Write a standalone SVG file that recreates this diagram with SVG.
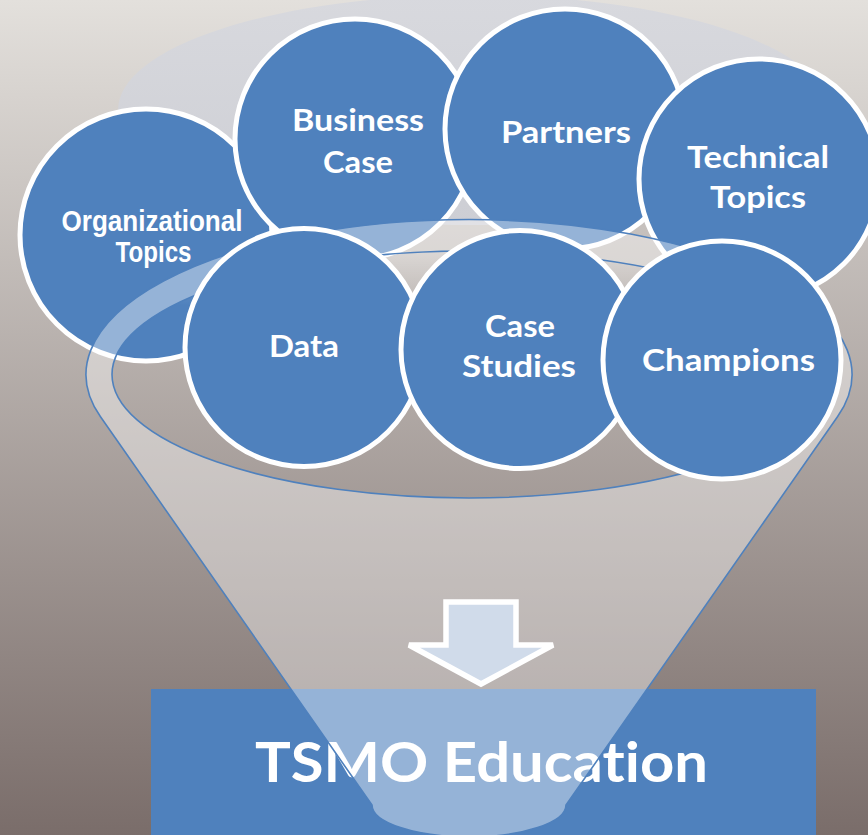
<svg xmlns="http://www.w3.org/2000/svg" width="868" height="835" viewBox="0 0 868 835">
  <defs>
    <linearGradient id="bgGrad" x1="0" y1="0" x2="0" y2="835" gradientUnits="userSpaceOnUse">
      <stop offset="0" stop-color="#e3e0dc"/>
      <stop offset="1" stop-color="#7a6d6a"/>
    </linearGradient>
    <linearGradient id="rimGrad" x1="0" y1="-5" x2="0" y2="225" gradientUnits="userSpaceOnUse">
      <stop offset="0" stop-color="#d8d9de"/>
      <stop offset="1" stop-color="#cdced4"/>
    </linearGradient>
    <linearGradient id="holeGrad" x1="0" y1="251" x2="0" y2="498" gradientUnits="userSpaceOnUse">
      <stop offset="0" stop-color="#ffffff" stop-opacity="0.4"/>
      <stop offset="0.22" stop-color="#ffffff" stop-opacity="0"/>
      <stop offset="1" stop-color="#ffffff" stop-opacity="0"/>
    </linearGradient>
    <style>
      .bubble { fill: #4f81bd; stroke: #ffffff; stroke-width: 5; }
      .lbl { font-family: Lato, "Open Sans", sans-serif; font-weight: 700; font-size: 31px; fill: #ffffff; text-anchor: middle; font-variant-ligatures: none; font-feature-settings: "liga" 0, "clig" 0; }
      .lbl-arial { font-family: "Liberation Sans", Arial, sans-serif; font-weight: 700; font-size: 29px; fill: #ffffff; text-anchor: middle; }
      .funnel-body { fill: #ffffff; fill-opacity: 0.4; fill-rule: evenodd; stroke: #4f81bd; stroke-width: 1.6; }
      .arrow { fill: #d0dbea; stroke: #ffffff; stroke-width: 5.5; stroke-linejoin: miter; }
    </style>
  </defs>

  <!-- backdrop -->
  <rect x="0" y="0" width="868" height="835" fill="url(#bgGrad)"/>

  <!-- open top of the funnel -->
  <ellipse id="funnel-top" cx="473" cy="110" rx="355" ry="115" fill="url(#rimGrad)"/>

  <!-- back row of topics -->
  <g id="organizational-topics">
    <circle class="bubble" cx="146" cy="235" r="126"/>
    <text class="lbl-arial" x="152" y="231" textLength="181" lengthAdjust="spacingAndGlyphs">Organizational</text>
    <text class="lbl-arial" x="153.5" y="262" textLength="76" lengthAdjust="spacingAndGlyphs">Topics</text>
  </g>
  <g id="business-case">
    <circle class="bubble" cx="355" cy="139" r="120"/>
    <text class="lbl" x="358" y="131" textLength="132" lengthAdjust="spacingAndGlyphs">Business</text>
    <text class="lbl" x="358" y="173" textLength="70" lengthAdjust="spacingAndGlyphs">Case</text>
  </g>
  <g id="partners">
    <circle class="bubble" cx="565" cy="129" r="120"/>
    <text class="lbl" x="566" y="143" textLength="130" lengthAdjust="spacingAndGlyphs">Partners</text>
  </g>
  <g id="technical-topics">
    <circle class="bubble" cx="759" cy="179" r="120"/>
    <text class="lbl" x="758" y="168" textLength="142" lengthAdjust="spacingAndGlyphs">Technical</text>
    <text class="lbl" x="758" y="208" textLength="96" lengthAdjust="spacingAndGlyphs">Topics</text>
  </g>

  <!-- outcome box -->
  <g id="tsmo-education">
    <rect x="151" y="689" width="665" height="160" fill="#4f81bd"/>
    <text class="lbl" x="481.5" y="782" textLength="453" lengthAdjust="spacingAndGlyphs" style="font-size:56px">TSMO Education</text>
  </g>

  <!-- funnel body with its opening -->
  <g id="funnel">
    <ellipse cx="469" cy="374.5" rx="357" ry="123.5" fill="url(#holeGrad)"/>
    <path class="funnel-body" d="M100.5,416.8 L372,805 A97,32 0 0 0 566,805 L837.5,416.8 A383,155 0 1 0 100.5,416.8 Z M112,374.5 A357,123.5 0 1 0 826,374.5 A357,123.5 0 1 0 112,374.5 Z"/>
  </g>

  <!-- flow into the outcome -->
  <g id="connectors">
    <path class="arrow" d="M446,602 H516 V645 H553 L481,684 L409,645 H446 Z"/>
  </g>

  <!-- front row of topics -->
  <g id="data">
    <circle class="bubble" cx="304" cy="347.5" r="119"/>
    <text class="lbl" x="304" y="357" textLength="70" lengthAdjust="spacingAndGlyphs">Data</text>
  </g>
  <g id="case-studies">
    <circle class="bubble" cx="520" cy="349.5" r="119"/>
    <text class="lbl" x="520" y="337" textLength="70" lengthAdjust="spacingAndGlyphs">Case</text>
    <text class="lbl" x="519" y="377" textLength="114" lengthAdjust="spacingAndGlyphs">Studies</text>
  </g>
  <g id="champions">
    <circle class="bubble" cx="722" cy="360" r="119"/>
    <text class="lbl" x="728.5" y="370.5" textLength="173" lengthAdjust="spacingAndGlyphs">Champions</text>
  </g>
</svg>
